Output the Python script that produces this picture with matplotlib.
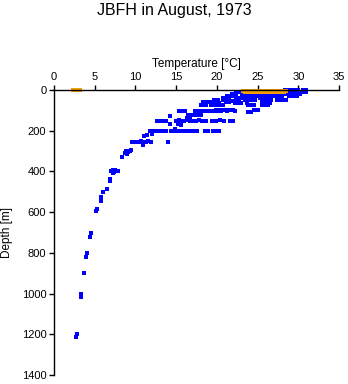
import matplotlib
matplotlib.use("Agg")
import matplotlib.pyplot as plt

plt.rcParams['font.family'] = ['Liberation Sans', 'DejaVu Sans']

title = "JBFH in August, 1973"
xlabel = "Temperature [°C]"
ylabel = "Depth [m]"
xticks = [0, 5, 10, 15, 20, 25, 30, 35]
yticks = [0, 200, 400, 600, 800, 1000, 1200, 1400]

# Blue: all CTD / bottle samples (temperature degC, depth m)
blue_temp = [
    2.75, 2.79, 3.32, 3.36, 3.69, 3.93, 4.06, 4.42, 4.50, 5.20, 5.22, 5.74, 5.82, 6.00, 6.50,
    6.84, 6.90, 7.00, 7.20, 7.40, 7.60, 7.90, 7.30, 7.50, 8.35, 8.70, 8.90, 9.10, 9.30, 9.50, 9.00,
    9.60, 10.1, 10.4, 10.7, 11.0, 11.3, 11.6, 11.9, 14.0, 10.9,
    11.1, 12.0, 12.0, 11.4,
    11.8, 12.1, 12.4, 12.7, 13.0, 13.3, 13.6, 13.8, 14.4, 14.8, 15.2, 15.5, 15.8, 16.3, 16.7,
    17.1, 17.5, 18.5, 18.9, 19.5, 19.9, 20.3, 14.8,
    14.2, 15.2, 15.6,
    12.7, 13.2, 13.5, 13.8, 15.0, 15.3, 15.6, 16.0, 16.4, 16.7, 17.0, 17.4, 17.8, 18.2, 18.7,
    19.4, 19.9, 20.4, 20.9, 21.6, 22.0,
    16.3, 16.7,
    14.2, 16.4, 16.8, 17.2, 17.6, 18.0,
    15.4, 15.7, 16.1, 17.3, 17.7, 18.1, 18.5, 18.9, 19.3, 19.7, 20.1, 20.5, 21.2, 22.2, 23.8, 24.2,
    19.9, 20.3, 20.7, 21.1, 21.6, 22.0, 24.6, 25.0,
    18.1, 18.4, 18.7, 19.3, 19.7, 20.1, 20.5, 20.8, 23.8, 24.2, 24.6, 25.6, 26.0, 26.3,
    18.3, 18.7, 19.1, 19.5, 19.9, 20.3, 21.1, 21.5, 22.2, 22.6, 23.0, 23.7,
    25.5, 25.9, 26.2, 26.5,
    19.7, 20.1, 20.7, 21.1, 21.9, 22.3, 22.7, 23.5, 23.9, 24.3, 24.7, 25.5,
    25.9, 26.3, 26.7, 27.4, 27.9, 28.2, 28.5,
    20.7, 21.1, 21.5, 22.3, 22.7, 23.1, 24.0, 24.4, 25.3, 25.7, 26.1,
    21.2, 21.6, 22.0, 22.4, 23.2, 23.6, 24.0, 24.4, 24.8, 25.2, 25.6, 26.0, 26.4, 26.8,
    27.2, 27.6, 28.0, 28.9, 29.0, 29.4, 29.8,
    21.9, 22.3, 23.1, 23.5, 23.9, 24.3, 24.7, 25.1, 25.5, 25.9, 26.3, 26.7, 27.1, 27.5,
    27.9, 28.3, 28.7, 29.1, 29.6, 30.2,
    22.4, 22.8, 23.2, 23.6, 24.0, 24.4, 24.8, 25.2, 25.6, 26.0, 26.4, 26.8, 27.2, 27.6, 28.0,
    28.4, 28.8, 29.2, 29.6, 30.0, 30.4, 31.0,
    28.4, 28.8, 29.2, 29.6, 30.0, 30.6, 30.9,
]
blue_depth = [
    1215, 1199, 1019, 1002, 901, 819, 803, 721, 704, 595, 586, 547, 524, 500, 485,
    439, 445, 400, 395, 405, 398, 400, 408, 392, 328, 310, 300, 305, 298, 295, 315,
    254, 254, 254, 250, 254, 254, 250, 254, 254, 270,
    225, 218, 210, 222,
    201, 201, 201, 201, 201, 201, 201, 201, 201, 201, 201, 201, 201, 201, 201,
    201, 201, 201, 201, 201, 201, 201, 193,
    169, 169, 172,
    152, 152, 152, 152, 152, 149, 152, 152, 149, 152, 152, 152, 149, 152, 152,
    152, 152, 149, 152, 152, 152,
    136, 136,
    128, 123, 123, 123, 123, 123,
    103, 103, 103, 103, 103, 103, 103, 103, 103, 103, 103, 103, 103, 103, 107, 107,
    100, 100, 100, 100, 100, 100, 96, 96,
    72, 72, 72, 74, 74, 74, 74, 74, 72, 72, 72, 75, 75, 75,
    60, 60, 60, 62, 62, 62, 60, 60, 62, 62, 62, 62,
    65, 65, 65, 65,
    49, 49, 49, 49, 52, 52, 52, 49, 49, 49, 49, 49,
    49, 49, 49, 49, 49, 49, 49,
    41, 41, 41, 41, 41, 41, 38, 38, 38, 38, 38,
    30, 30, 30, 30, 30, 30, 30, 30, 30, 30, 30, 30, 30, 30,
    30, 30, 30, 30, 30, 30, 30,
    20, 20, 20, 20, 20, 20, 20, 20, 20, 20, 20, 20, 20, 20,
    20, 20, 20, 20, 20, 20,
    8, 8, 8, 8, 8, 8, 8, 8, 8, 8, 8, 8, 8, 8, 8,
    8, 8, 8, 8, 8, 8, 8,
    0, 0, 0, 0, 0, 0, 0,
]

# Orange: surface samples
orange_temp = [
    2.3, 2.6, 2.9, 3.2,
    23.2, 23.6, 23.9, 24.3, 24.6, 25.0, 25.3, 25.7, 26.0, 26.4, 26.7, 27.1, 27.4, 27.8, 28.1, 28.5,
    23.4, 23.8, 24.2, 24.6, 25.0, 25.4, 25.8, 26.2, 26.6, 27.0, 27.4, 27.8, 28.2,
]
orange_depth = [
    0, 0, 0, 0,
    3, 3, 3, 3, 3, 3, 3, 3, 3, 3, 3, 3, 3, 3, 3, 3,
    9, 9, 9, 9, 9, 9, 9, 9, 9, 9, 9, 9, 9,
]

fig = plt.figure(figsize=(3.48, 3.84), dpi=100)
ax = fig.add_axes([54 / 348, 1 - 375 / 384, 285 / 348, 285 / 384])

ax.plot(blue_temp, blue_depth, linestyle='none', marker='s', markersize=2.5,
        color='#0000ff', markeredgewidth=0, clip_on=False)
ax.plot(orange_temp, orange_depth, linestyle='none', marker='s', markersize=2.5,
        color='#f5a000', markeredgewidth=0, clip_on=False)

ax.set_xlim(0, 35)
ax.set_ylim(1400, 0)
ax.set_xticks(xticks)
ax.set_yticks(yticks)
ax.xaxis.tick_top()
ax.xaxis.set_label_position('top')
for s in ('right', 'bottom'):
    ax.spines[s].set_visible(False)
for s in ('left', 'top'):
    ax.spines[s].set_linewidth(1.0)
ax.tick_params(axis='both', direction='out', length=3.5, width=1.0, labelsize=8, pad=2)
ax.set_xlabel(xlabel, fontsize=8.5, labelpad=4)
ax.set_ylabel(ylabel, fontsize=8.5, labelpad=6)
fig.text(0.5, 1 - 10 / 384, title, ha='center', va='center', fontsize=11.5)

fig.savefig('out.png', dpi=100)
